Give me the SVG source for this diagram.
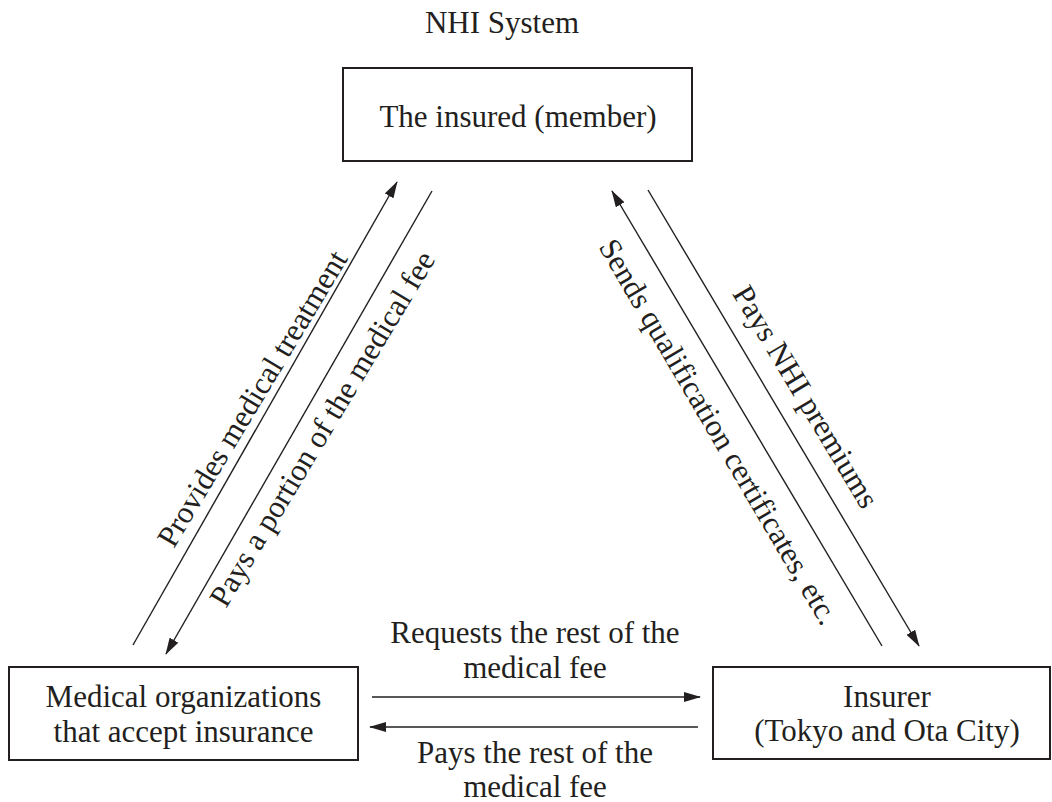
<svg xmlns="http://www.w3.org/2000/svg" width="1052" height="802" viewBox="0 0 1052 802">
<style>
.t{font-family:"Liberation Serif","Times New Roman",serif;font-size:31px;fill:#231f20;text-anchor:middle}
.box{fill:#fff;stroke:#231f20;stroke-width:2}
.ln{stroke:#231f20;stroke-width:1.4;fill:none}
.arr{marker-end:url(#ah)}
</style>
<defs>
<marker id="ah" markerUnits="userSpaceOnUse" markerWidth="17" markerHeight="10" refX="16" refY="5" orient="auto">
<path d="M0,0 L17,5 L0,10 z" fill="#231f20"/>
</marker>
</defs>
<rect width="1052" height="802" fill="#fff"/>
<text class="t" x="502" y="33">NHI System</text>
<g id="insured">
<rect class="box" x="343" y="68" width="349" height="93"/>
<text class="t" x="518" y="127">The insured (member)</text>
</g>
<g id="medical">
<rect class="box" x="9" y="667" width="349" height="93"/>
<text class="t" x="183.5" y="707">Medical organizations</text>
<text class="t" x="183.5" y="742">that accept insurance</text>
</g>
<g id="insurer">
<rect class="box" x="713" y="667" width="337" height="92"/>
<text class="t" x="887" y="707">Insurer</text>
<text class="t" x="887" y="741">(Tokyo and Ota City)</text>
</g>
<g id="connectors">
<line class="ln arr" x1="133" y1="645" x2="397" y2="182"/>
<line class="ln arr" x1="432" y1="191" x2="166" y2="654"/>
<line class="ln arr" x1="882" y1="646" x2="612" y2="191"/>
<line class="ln arr" x1="648" y1="190" x2="919" y2="646"/>
<line class="ln arr" x1="372" y1="697" x2="700" y2="697"/>
<line class="ln arr" x1="698" y1="727" x2="370" y2="727"/>
<text class="t" transform="translate(261,404) rotate(-59)">Provides medical treatment</text>
<text class="t" transform="translate(331,434) rotate(-59)">Pays a portion of the medical fee</text>
<text class="t" transform="translate(710,437) rotate(59.5)">Sends qualification certificates, etc.</text>
<text class="t" transform="translate(797,402) rotate(59)">Pays NHI premiums</text>
<text class="t" x="535" y="643">Requests the rest of the</text>
<text class="t" x="535" y="678">medical fee</text>
<text class="t" x="535" y="763">Pays the rest of the</text>
<text class="t" x="535" y="797">medical fee</text>
</g>
</svg>
